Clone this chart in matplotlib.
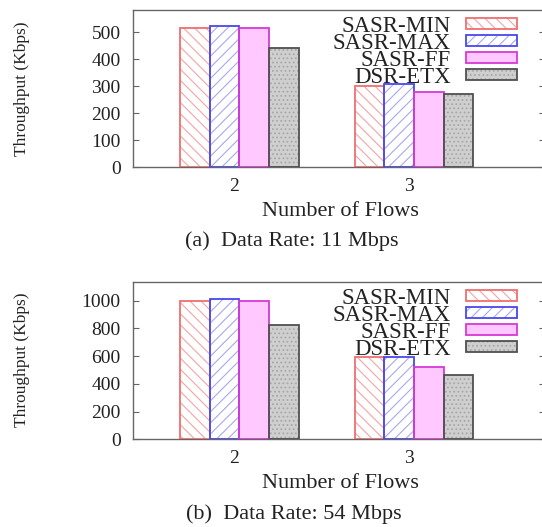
import numpy as np
from matplotlib import pyplot as plt
from matplotlib.legend_handler import HandlerTuple

plt.rcParams['font.family'] = ['Liberation Serif', 'DejaVu Serif']
plt.rcParams['hatch.linewidth'] = 0.8

flows = [2, 3]
series = ['SASR-MIN', 'SASR-MAX', 'SASR-FF', 'DSR-ETX']

# throughput (Kbps), one list per series
rate11_min = [516, 301]
rate11_max = [524, 310]
rate11_ff = [516, 280]
rate11_etx = [441, 270]

rate54_min = [1000, 591]
rate54_max = [1010, 591]
rate54_ff = [995, 524]
rate54_etx = [822, 464]

ticks11 = [0, 100, 200, 300, 400, 500]
ticks54 = [0, 200, 400, 600, 800, 1000]

# face, hatch colour, hatch, edge
styles = [
    ('white', '#f4a4a4', '\\\\\\', '#ee7070'),
    ('white', '#a8a8f4', '///', '#4848f0'),
    ('#ffc8ff', '#ffc8ff', '', '#d838d8'),
    ('#cfcfcf', '#a8a8a8', '....', '#505050'),
]

bar_w = 0.17
axis_col = '#666666'
text_col = '#222222'


def draw_panel(ax, values, yticks, ymax):
    x = np.array(flows, dtype=float)
    handles = []
    for i, (vals, (face, hcol, hatch, edge)) in enumerate(zip(values, styles)):
        pos = x + (i - 1.5) * bar_w + 0.03
        b1 = ax.bar(pos, vals, bar_w, color=face, edgecolor=hcol, hatch=hatch, linewidth=0, zorder=2)
        b2 = ax.bar(pos, vals, bar_w, fill=False, edgecolor=edge, linewidth=1.3, zorder=3)
        handles.append((b1, b2))

    ax.set_xlim(1.42, 3.78)
    ax.set_ylim(0, ymax)
    ax.set_xticks(flows)
    ax.set_yticks(yticks)
    ax.tick_params(axis='y', direction='in', length=4, width=0.8, color=axis_col,
                   right=True, labelsize=14, pad=9, labelcolor=text_col)
    ax.tick_params(axis='x', length=0, labelsize=14, pad=8, labelcolor=text_col)
    for s in ax.spines.values():
        s.set_color(axis_col)
        s.set_linewidth(1.0)

    leg = ax.legend(handles, series, handler_map={tuple: HandlerTuple(ndivide=1)},
                    loc='upper right', bbox_to_anchor=(0.932, 0.965), frameon=False,
                    markerfirst=False, fontsize=16.5, handlelength=2.2, handleheight=0.36,
                    handletextpad=0.7, labelspacing=-0.17, borderpad=0, borderaxespad=0)
    for t in leg.get_texts():
        t.set_color(text_col)


fig = plt.figure(figsize=(5.42, 5.27), dpi=100)
ax1 = fig.add_axes([0.2454, 0.6831, 0.760, 0.2979])
ax2 = fig.add_axes([0.2454, 0.1664, 0.760, 0.2979])

draw_panel(ax1, [rate11_min, rate11_max, rate11_ff, rate11_etx], ticks11, 583)
draw_panel(ax2, [rate54_min, rate54_max, rate54_ff, rate54_etx], ticks54, 1133)

for yc in (0.832, 0.317):
    fig.text(0.0406, yc, 'Throughput (Kbps)', rotation=90, ha='center', va='center',
             fontsize=12.5, color=text_col)

fig.text(0.629, 0.5996, 'Number of Flows', ha='center', va='center', fontsize=16, color=text_col)
fig.text(0.539, 0.5427, '(a)  Data Rate: 11 Mbps', ha='center', va='center', fontsize=16, color=text_col)
fig.text(0.629, 0.0816, 'Number of Flows', ha='center', va='center', fontsize=16, color=text_col)
fig.text(0.5424, 0.0247, '(b)  Data Rate: 54 Mbps', ha='center', va='center', fontsize=16, color=text_col)

fig.savefig('out.png', dpi=100)
